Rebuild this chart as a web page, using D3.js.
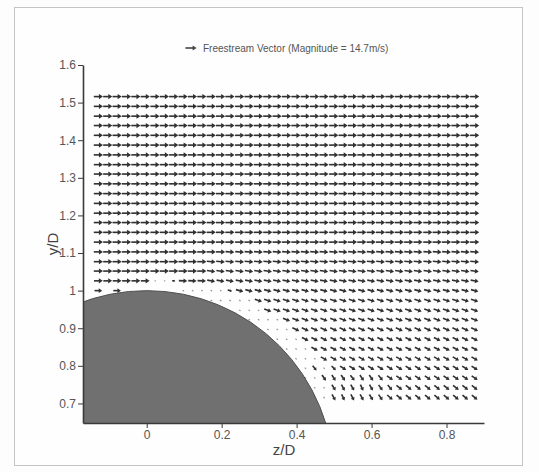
<!DOCTYPE html>
<html><head><meta charset="utf-8">
<script src="https://cdn.jsdelivr.net/npm/d3@7"></script>
<style>body{margin:0;background:#fff}</style>
</head><body><svg id="c" width="539" height="472"></svg>
<script>
// ---- data ----
const zVals = [-0.129,-0.104,-0.079,-0.054,-0.029,-0.004,0.022,0.047,0.072,0.097,
 0.122,0.147,0.172,0.197,0.222,0.248,0.273,0.298,0.323,0.348,
 0.373,0.398,0.423,0.448,0.473,0.499,0.524,0.549,0.574,0.599,
 0.624,0.649,0.674,0.699,0.724,0.750,0.775,0.800,0.825,0.850,0.875];
const yVals = [1.516,1.490,1.464,1.439,1.413,1.387,1.361,1.335,1.310,1.284,
 1.258,1.232,1.206,1.181,1.155,1.129,1.103,1.077,1.052,1.026,
 1.000,0.974,0.948,0.923,0.897,0.871,0.845,0.819,0.794,0.768,0.742,0.716];
// speed (m/s) per row (top to bottom), per column (left to right)
const speed = [
 [12,12,12,12,12,12,12,12,12,12, 12,12,12,12,12,12,12,12,12,12, 12,12,12,12,12,12,12,12,12,12, 12,12,12,12,12,12,12,12,12,12, 12],
 [12,12,12,12,12,12,12,12,12,12, 12,12,12,12,12,12,12,12,12,12, 12,12,12,12,12,12,12,12,12,12, 12,12,12,12,12,12,12,12,12,12, 12],
 [12,12,12,12,12,12,12,12,12,12, 12,12,12,12,12,12,12,12,12,12, 12,12,12,12,12,12,12,12,12,12, 12,12,12,12,12,12,12,12,12,12, 12],
 [12,12,12,12,12,12,12,12,12,12, 12,12,12,12,12,12,12,12,12,12, 12,12,12,12,12,12,12,12,12,12, 12,12,12,12,12,12,12,12,12,12, 12],
 [12,12,12,12,12,12,12,12,12,12, 12,12,12,12,12,12,12,12,12,12, 12,12,12,12,12,12,12,12,12,12, 12,12,12,12,12,12,12,12,12,12, 12],
 [12,12,12,12,12,12,12,12,12,12, 12,12,12,12,12,12,12,12,12,12, 12,12,12,12,12,12,12,12,12,12, 12,12,12,12,12,12,12,12,12,12, 12],
 [12,12,12,12,12,12,12,12,12,12, 12,12,12,12,12,12,12,12,12,12, 12,12,12,12,12,12,12,12,12,12, 12,12,12,12,12,12,12,12,12,12, 12],
 [12,12,12,12,12,12,12,12,12,12, 12,12,12,12,12,12,12,12,12,12, 12,12,12,12,12,12,12,12,12,12, 12,12,12,12,12,12,12,12,12,12, 12],
 [12,12,12,12,12,12,12,12,12,12, 12,12,12,12,12,12,12,12,12,12, 12,12,12,12,12,12,12,12,12,12, 12,12,12,12,12,12,12,12,12,12, 12],
 [12,12,12,12,12,12,12,12,12,12, 12,12,12,12,12,12,12,12,12,12, 12,12,12,12,12,12,12,12,12,12, 12,12,12,12,12,12,12,12,12,12, 12],
 [12,12,12,12,12,12,12,12,12,12, 12,12,12,12,12,12,12,12,12,12, 12,12,12,12,12,12,12,12,12,12, 12,12,12,12,12,12,12,12,12,12, 12],
 [12,12,12,12,12,12,12,12,12,12, 12,12,12,12,12,12,12,12,12,12, 12,12,12,12,12,12,12,12,12,12, 12,12,12,12,12,12,12,12,12,12, 12],
 [12,12,12,12,12,12,12,12,12,12, 12,12,12,12,12,12,12,12,12,12, 12,12,12,12,12,12,12,12,12,12, 12,12,12,12,12,12,12,12,12,12, 12],
 [12,12,12,12,12,12,12,12,12,12, 12,12,12,12,12,12,12,12,12,12, 12,12,12,12,12,12,12,12,12,12, 12,12,12,12,12,12,12,12,12,12, 12],
 [12,12,12,12,12,12,12,12,12,12, 12,12,12,12,12,12,12,12,12,12, 12,12,12,12,12,12,12,12,12,12, 12,12,12,12,12,12,12,12,12,12, 12],
 [12,12,12,12,12,12,12,12,12,12, 12,12,12,12,12,12,12,12,12,12, 12,12,12,12,12,12,12,12,12,12, 12,12,12,12,12,12,12,12,12,12, 12],
 [12,12,12,12,12,12,12,12,12,12, 12,12,12,12,11.5,11.5,11.5,11.5,11.5,11.5, 11.5,11.5,11.5,11.5,11.5,11.5,11.5,11.5,11.5,11.5, 11.5,11.5,11.5,11.5,11.5,11.5,11.5,11.5,11.5,11.5, 11.5],
 [12,12,12,12,12,12,12,12,12,12, 12,12,11.5,11.5,11.5,11.5,11.5,11.5,11.5,11.5, 11.5,11.5,11.5,11.5,11.5,11.5,11.5,11.5,11.5,11.5, 11.5,11.5,11.5,11.5,11.5,11.5,11.5,11.5,11.5,11.5, 11.5],
 [12,12,12,12,12,12,12,12,12,12, 12,12,11,11,11,11,11,11,11,11, 11,11,11,11,11,11,11,11,11,11, 11,11,11,11,11,11,11,11,11,11, 11],
 [11.5,11.5,11.5,11.5,11.5,11.5,1,1,4,11, 11,11,10.5,10.5,10.5,10.5,10.5,10.5,10.5,10.5, 10.5,10.5,10.5,10.5,10.5,10.5,10.5,10.5,10.5,10.5, 10.5,10.5,10.5,10.5,10.5,10.5,10.5,10.5,10.5,10.5, 10.5],
 [10,0,10,0,0,0,0,0,0,1.5, 1.5,1.5,1.5,1.5,6,10,10,10,10,10, 10,10,10,10,10,10,10,10,10,10, 10,10,10,10,10,10,10,10,10,10, 10],
 [0,0,0,0,0,0,0,0,0,0, 0,0,1.5,1.5,1.5,1.5,1.5,10,10,10, 10,10,10,10,10,10,10,10,10,10, 10,10,10,10,10,10,10,10,10,10, 10],
 [0,0,0,0,0,0,0,0,0,0, 0,0,0,0,0,1.5,1.5,1.5,10,10, 10,10,10,10,10,10,10,10,10,10, 10,10,10,10,10,10,10,10,10,10, 10],
 [0,0,0,0,0,0,0,0,0,0, 0,0,0,0,0,0,1.5,1.5,1.5,1.5, 10,10,10,10,10,10,10,10,10,10, 10,10,10,10,10,10,10,10,10,10, 10],
 [0,0,0,0,0,0,0,0,0,0, 0,0,0,0,0,0,0,0,1.5,1.5, 1.5,10,10,10,10,10,10,10,10,10, 10,10,10,10,10,10,10,10,10,10, 10],
 [0,0,0,0,0,0,0,0,0,0, 0,0,0,0,0,0,0,0,0,1.5, 1.5,1.5,9.5,9.5,9.5,9.5,9.5,9.5,9.5,9.5, 9.5,9.5,9.5,9.5,9.5,9.5,9.5,9.5,9.5,9.5, 9.5],
 [0,0,0,0,0,0,0,0,0,0, 0,0,0,0,0,0,0,0,0,0, 1.5,1.5,1.5,9.5,9.5,9.5,9.5,9.5,9.5,9.5, 9.5,9.5,9.5,9.5,9.5,9.5,9.5,9.5,9.5,9.5, 9.5],
 [0,0,0,0,0,0,0,0,0,0, 0,0,0,0,0,0,0,0,0,0, 0,1.5,1.5,1.5,9.5,9.5,9.5,9.5,9.5,9.5, 9.5,9.5,9.5,9.5,9.5,9.5,9.5,9.5,9.5,9.5, 9.5],
 [0,0,0,0,0,0,0,0,0,0, 0,0,0,0,0,0,0,0,0,0, 0,0,1.5,8,1.5,8,9.5,9.5,9.5,9.5, 9.5,9.5,9.5,9.5,9.5,9.5,9.5,9.5,9.5,9.5, 9.5],
 [0,0,0,0,0,0,0,0,0,0, 0,0,0,0,0,0,0,0,0,0, 0,0,1.5,1.5,9,9,9,9,9,9, 9,9.5,9.5,9.5,9.5,9.5,9.5,9.5,9.5,9.5, 9.5],
 [0,0,0,0,0,0,0,0,0,0, 0,0,0,0,0,0,0,0,0,0, 0,0,0,1.5,1.5,9,9,9,9,9, 9,9,9.5,9.5,9.5,9.5,9.5,9.5,9.5,9.5, 9.5],
 [0,0,0,0,0,0,0,0,0,0, 0,0,0,0,0,0,0,0,0,0, 0,0,0,0,1.5,9,9,9,9,9, 9,9.5,9.5,9.5,9.5,9.5,9.5,9.5,9.5,9.5, 9.5]
];
// flow angle (degrees, counter-clockwise from +z) per row, per column
const angle = [
 [0,0,0,0,0,0,0,0,0,0, 0,0,0,0,0,0,0,0,0,0, 0,0,0,0,0,0,0,0,0,0, 0,0,0,0,0,0,0,0,0,0, 0],
 [0,0,0,0,0,0,0,0,0,0, 0,0,0,0,0,0,0,0,0,0, 0,0,0,0,0,0,0,0,0,0, 0,0,0,0,0,0,0,0,0,0, 0],
 [0,0,0,0,0,0,0,0,0,0, 0,0,0,0,0,0,0,0,0,0, 0,0,0,0,0,0,0,0,0,0, 0,0,0,0,0,0,0,0,0,0, 0],
 [0,0,0,0,0,0,0,0,0,0, 0,0,0,0,0,0,0,0,0,0, 0,0,0,0,0,0,0,0,0,0, 0,0,0,0,0,0,0,0,0,0, 0],
 [0,0,0,0,0,0,0,0,0,0, 0,0,0,0,0,0,0,0,0,0, 0,0,0,0,0,0,0,0,0,0, 0,0,0,0,0,0,0,0,0,0, 0],
 [0,0,0,0,0,0,0,0,0,0, 0,0,0,0,0,0,0,0,0,0, 0,0,0,0,0,0,0,0,0,0, 0,0,0,0,0,0,0,0,0,0, 0],
 [0,0,0,0,0,0,0,0,0,0, 0,0,0,0,0,0,0,0,0,0, 0,0,0,0,0,0,0,0,0,0, 0,0,0,0,0,0,0,0,0,0, 0],
 [0,0,0,0,0,0,0,0,0,0, 0,0,0,0,0,0,0,0,0,0, 0,0,0,0,0,0,0,0,0,0, 0,0,0,0,0,0,0,0,0,0, 0],
 [0,0,0,0,0,0,0,0,0,0, 0,0,0,0,0,0,0,0,0,0, 0,0,0,0,0,0,0,0,0,0, 0,0,0,0,0,0,0,0,0,0, 0],
 [0,0,0,0,0,0,0,0,0,0, 0,0,0,0,0,0,0,0,0,0, 0,0,0,0,0,0,0,0,0,0, 0,0,0,0,0,0,0,0,0,0, 0],
 [0,0,0,0,0,0,0,0,0,0, 0,0,0,0,0,0,0,0,0,0, 0,0,0,0,0,0,0,0,0,0, 0,0,0,0,0,0,0,0,0,0, 0],
 [0,0,0,0,0,0,0,0,0,0, 0,0,0,0,0,0,0,0,0,0, 0,0,0,0,0,0,0,0,0,0, 0,0,0,0,0,0,0,0,0,0, 0],
 [0,0,0,0,0,0,0,0,0,0, 0,0,0,0,0,0,0,0,0,0, 0,0,0,0,0,0,0,0,0,0, 0,0,0,0,0,0,0,0,0,0, 0],
 [0,0,0,0,0,0,0,0,0,0, 0,0,0,0,0,0,0,0,0,0, 0,0,0,0,0,0,0,0,0,0, 0,0,0,0,0,0,0,0,0,0, 0],
 [0,0,0,0,0,0,0,0,0,0, 0,0,0,0,0,0,0,0,0,0, 0,0,0,0,0,0,0,0,0,0, 0,0,0,0,0,0,0,0,0,0, 0],
 [0,0,0,0,0,0,0,0,0,0, 0,0,0,0,0,0,0,0,0,0, 0,0,0,0,0,0,0,0,0,0, 0,0,0,0,0,0,0,0,0,0, 0],
 [0,0,0,0,0,0,0,0,0,0, 0,0,0,0,-3,-3,-3,-3,-3,-3, -3,-3,-3,-3,-3,-3,-3,-3,-3,-3, -3,-3,-3,-3,-3,-3,-3,-3,-3,-3, -3],
 [0,0,0,0,0,0,0,0,0,0, 0,0,-5,-5,-5,-5,-5,-5,-5,-5, -5,-5,-5,-5,-5,-5,-5,-5,-5,-5, -5,-5,-5,-5,-5,-5,-5,-5,-5,-5, -5],
 [0,0,0,0,0,0,0,0,0,0, 0,0,-8,-8,-8,-8,-8,-8,-8,-8, -8,-8,-8,-8,-8,-8,-8,-8,-8,-8, -8,-8,-8,-8,-8,-8,-8,-8,-8,-8, -8],
 [0,0,0,0,0,0,0,0,-5,-3, -3,-3,-10,-10,-10,-10,-10,-10,-10,-10, -10,-10,-10,-10,-10,-10,-10,-10,-10,-10, -10,-10,-10,-10,-10,-10,-10,-10,-10,-10, -10],
 [0,0,0,0,0,0,0,0,0,-20, -20,-20,-20,-20,-15,-15,-15,-15,-15,-15, -15,-15,-15,-15,-15,-15,-15,-15,-15,-15, -15,-15,-15,-15,-15,-15,-15,-15,-15,-15, -15],
 [0,0,0,0,0,0,0,0,0,0, 0,0,-25,-25,-25,-25,-25,-18,-18,-18, -18,-18,-18,-18,-18,-18,-18,-18,-18,-18, -18,-18,-18,-18,-18,-18,-18,-18,-18,-18, -18],
 [0,0,0,0,0,0,0,0,0,0, 0,0,0,0,0,-30,-30,-30,-20,-20, -20,-20,-20,-20,-20,-20,-20,-20,-20,-20, -20,-20,-20,-20,-20,-20,-20,-20,-20,-20, -20],
 [0,0,0,0,0,0,0,0,0,0, 0,0,0,0,0,0,-30,-30,-30,-30, -22,-22,-22,-22,-22,-22,-22,-22,-22,-22, -22,-22,-22,-22,-22,-22,-22,-22,-22,-22, -22],
 [0,0,0,0,0,0,0,0,0,0, 0,0,0,0,0,0,0,0,-30,-30, -30,-24,-24,-24,-24,-24,-24,-24,-24,-24, -24,-24,-24,-24,-24,-24,-24,-24,-24,-24, -24],
 [0,0,0,0,0,0,0,0,0,0, 0,0,0,0,0,0,0,0,0,-35, -35,-35,-26,-26,-26,-26,-26,-26,-26,-26, -26,-26,-26,-26,-26,-26,-26,-26,-26,-26, -26],
 [0,0,0,0,0,0,0,0,0,0, 0,0,0,0,0,0,0,0,0,0, -35,-35,-35,-28,-28,-28,-28,-28,-28,-28, -28,-28,-28,-28,-28,-28,-28,-28,-28,-28, -28],
 [0,0,0,0,0,0,0,0,0,0, 0,0,0,0,0,0,0,0,0,0, 0,-40,-40,-40,-30,-30,-30,-30,-30,-30, -30,-30,-30,-30,-30,-30,-30,-30,-30,-30, -30],
 [0,0,0,0,0,0,0,0,0,0, 0,0,0,0,0,0,0,0,0,0, 0,0,-45,-50,-45,-45,-32,-32,-32,-32, -32,-32,-32,-32,-32,-32,-32,-32,-32,-32, -32],
 [0,0,0,0,0,0,0,0,0,0, 0,0,0,0,0,0,0,0,0,0, 0,0,-50,-50,-55,-58,-55,-52,-56,-55, -50,-35,-35,-35,-35,-35,-35,-35,-35,-35, -35],
 [0,0,0,0,0,0,0,0,0,0, 0,0,0,0,0,0,0,0,0,0, 0,0,0,-50,-50,-58,-62,-60,-65,-60, -55,-50,-38,-38,-38,-38,-38,-38,-38,-38, -38],
 [0,0,0,0,0,0,0,0,0,0, 0,0,0,0,0,0,0,0,0,0, 0,0,0,0,-55,-60,-64,-62,-60,-58, -55,-42,-40,-40,-40,-40,-40,-40,-40,-40, -40]
];
const freestream = 14.7;
const bodyCenter = [0, 0.5];
const bodyRadius = 0.5;
const xTicks = [0, 0.2, 0.4, 0.6, 0.8];
const xTickLabels = ["0", "0.2", "0.4", "0.6", "0.8"];
const yTicks = [0.7, 0.8, 0.9, 1.0, 1.1, 1.2, 1.3, 1.4, 1.5, 1.6];
const yTickLabels = ["0.7", "0.8", "0.9", "1", "1.1", "1.2", "1.3", "1.4", "1.5", "1.6"];
const xMinor = [-0.16,-0.12,-0.08,-0.04,0.04,0.08,0.12,0.16,0.24,0.28,0.32,0.36,0.44,0.48,0.52,0.56,0.64,0.68,0.72,0.76,0.84,0.88];
const yMinor = [0.66,0.68,0.72,0.74,0.76,0.78,0.82,0.84,0.86,0.88,0.92,0.94,0.96,0.98,1.02,1.04,1.06,1.08,1.12,1.14,1.16,1.18,1.22,1.24,1.26,1.28,1.32,1.34,1.36,1.38,1.42,1.44,1.46,1.48,1.52,1.54,1.56,1.58];

// ---- drawing ----
const svg = d3.select("#c");
const font = "'Liberation Sans', Arial, sans-serif";
svg.append("rect").attr("width", 539).attr("height", 472).attr("fill", "#fdfdfd");
svg.append("rect").attr("x", 14.5).attr("y", 7.5).attr("width", 508).attr("height", 458)
  .attr("fill", "#fefefe").attr("stroke", "#c4c4c4").attr("stroke-width", 1);

const x = d3.scaleLinear().domain([-0.17, 0.9]).range([83, 484]);
const y = d3.scaleLinear().domain([0.648, 1.6]).range([423, 65]);
const len = d3.scaleLinear().domain([0, freestream]).range([0, 11.2]);

svg.append("clipPath").attr("id", "plot").append("rect")
  .attr("x", x(-0.17)).attr("y", y(1.6)).attr("width", x(0.9) - x(-0.17)).attr("height", y(0.648) - y(1.6));

// body
svg.append("g").attr("clip-path", "url(#plot)").append("ellipse")
  .attr("cx", x(bodyCenter[0])).attr("cy", y(bodyCenter[1]))
  .attr("rx", x(bodyCenter[0] + bodyRadius) - x(bodyCenter[0]))
  .attr("ry", y(bodyCenter[1]) - y(bodyCenter[1] + bodyRadius))
  .attr("fill", "#707070").attr("stroke", "#505050").attr("stroke-width", 1);

// vectors
const arrowColor = "#303030";
function arrow(g, cx, cy, L, deg, color) {
  const a = deg * Math.PI / 180;
  const dx = Math.cos(a), dy = -Math.sin(a);
  const tx = cx - dx * L / 2, ty = cy - dy * L / 2;
  const hx = cx + dx * L / 2, hy = cy + dy * L / 2;
  if (L < 2.2) {
    g.append("line").attr("x1", tx).attr("y1", ty).attr("x2", hx + dx * 0.5).attr("y2", hy + dy * 0.5)
      .attr("stroke", color).attr("stroke-width", 1.2).attr("opacity", 0.5);
    return;
  }
  const h = Math.min(4, 0.45 * L), w = h * 0.6 + 0.2;
  const bx = hx - dx * h, by = hy - dy * h;
  g.append("line").attr("x1", tx).attr("y1", ty).attr("x2", bx + dx * 0.5).attr("y2", by + dy * 0.5)
    .attr("stroke", color).attr("stroke-width", 1.6);
  g.append("path").attr("d", `M${hx},${hy}L${bx - dy * w},${by + dx * w}L${bx + dy * w},${by - dx * w}Z`)
    .attr("fill", color);
}
const vg = svg.append("g").attr("clip-path", "url(#plot)");
yVals.forEach((yv, r) => {
  zVals.forEach((zv, c) => {
    const s = speed[r][c];
    if (!s) return;
    arrow(vg, x(zv), y(yv), len(s), angle[r][c], arrowColor);
  });
});

// axes
const axisColor = "#3a3a3a";
const gx = svg.append("g").attr("transform", `translate(0,${y(0.648)})`);
gx.call(d3.axisBottom(x).tickValues(xMinor).tickSize(3).tickSizeOuter(0).tickFormat(""));
gx.call(d3.axisBottom(x).tickValues(xTicks).tickSize(5).tickSizeOuter(0).tickPadding(2)
  .tickFormat((d, i) => xTickLabels[i]));
const gy = svg.append("g").attr("transform", `translate(${x(-0.17)},0)`);
gy.call(d3.axisLeft(y).tickValues(yMinor).tickSize(3).tickSizeOuter(0).tickFormat(""));
gy.call(d3.axisLeft(y).tickValues(yTicks).tickSize(5).tickSizeOuter(0).tickPadding(2)
  .tickFormat((d, i) => yTickLabels[i]));
svg.selectAll(".domain").attr("stroke", axisColor).attr("stroke-width", 1.6);
svg.selectAll(".tick line").attr("stroke", axisColor).attr("stroke-width", 1);
svg.selectAll(".tick text").attr("fill", "#555").attr("font-family", font).attr("font-size", 12);

// axis titles
svg.append("text").attr("x", (x(-0.17) + x(0.9)) / 2 + 0.5).attr("y", 455).attr("text-anchor", "middle")
  .attr("font-family", font).attr("font-size", 15).attr("fill", "#444").text("z/D");
svg.append("text").attr("transform", `translate(58,244) rotate(-90)`).attr("text-anchor", "middle")
  .attr("font-family", font).attr("font-size", 15).attr("fill", "#444").text("y/D");

// legend
const lg = svg.append("g");
arrow(lg, 191, 48, len(freestream), 0, "#444");
lg.append("text").attr("x", 203).attr("y", 51.5).attr("font-family", font).attr("font-size", 10)
  .attr("fill", "#555").text("Freestream Vector (Magnitude = 14.7m/s)");
</script>
</body></html>
